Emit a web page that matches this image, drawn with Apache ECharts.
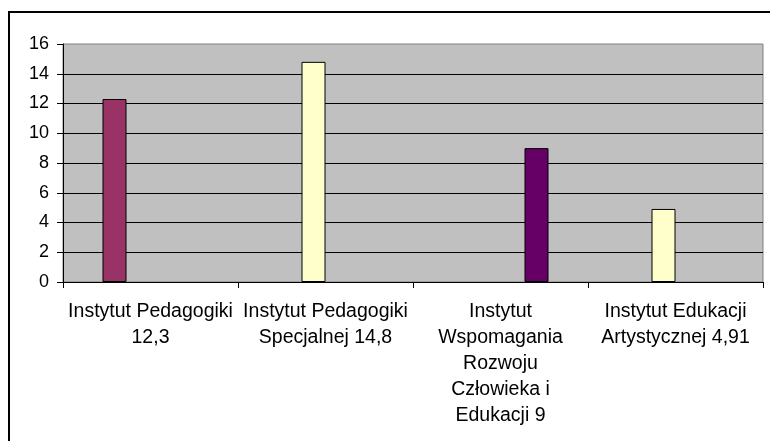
<!DOCTYPE html>
<html>
<head>
<meta charset="utf-8">
<script src="https://cdn.jsdelivr.net/npm/echarts@6/dist/echarts.min.js"></script>
<style>
  html, body { margin: 0; padding: 0; background: #fff; }
  #chart { width: 770px; height: 441px; }
</style>
</head>
<body>
<div id="chart"></div>
<script>
const categories = [
  'Instytut Pedagogiki\n12,3',
  'Instytut Pedagogiki\nSpecjalnej 14,8',
  'Instytut\nWspomagania\nRozwoju\nCzłowieka i\nEdukacji 9',
  'Instytut Edukacji\nArtystycznej 4,91'
];
const series1 = [12.3, null, null, null];
const series2 = [null, 14.8, null, 4.91];
const series3 = [null, null, null, null];
const series4 = [null, null, 9, null];
const yTicks = { min: 0, max: 16, interval: 2 };

const colors = ['#993366', '#FFFFCC', '#CCFFFF', '#660066'];
const FONT = '"Liberation Sans", Arial, sans-serif';

const chart = echarts.init(document.getElementById('chart'), null, { renderer: 'canvas' });

function barSeries(data, color) {
  return {
    type: 'bar',
    data: data,
    barWidth: 24,
    barGap: '0%',
    itemStyle: { color: color, borderColor: '#000', borderWidth: 1 },
    emphasis: { disabled: true },
    animation: false
  };
}

chart.setOption({
  animation: false,
  graphic: [{
    type: 'rect',
    shape: { x: 9, y: 12, width: 900, height: 600 },
    style: { fill: 'none', stroke: '#000', lineWidth: 2 },
    silent: true,
    z: 100
  }],
  grid: {
    left: 63, top: 44, width: 700, height: 238,
    show: true, backgroundColor: '#C0C0C0', borderColor: '#808080', borderWidth: 1
  },
  xAxis: {
    type: 'category',
    data: categories,
    axisLine: { lineStyle: { color: '#000', width: 1 } },
    axisTick: { show: true, length: 6, lineStyle: { color: '#000' } },
    axisLabel: {
      interval: 0, margin: 17, color: '#000', fontFamily: FONT, fontSize: 19.5,
      lineHeight: 26, align: 'center'
    },
    splitLine: { show: false }
  },
  yAxis: {
    type: 'value',
    min: yTicks.min, max: yTicks.max, interval: yTicks.interval,
    axisLine: { show: true, lineStyle: { color: '#000', width: 1 } },
    axisTick: { show: true, length: 6, lineStyle: { color: '#000' } },
    axisLabel: { margin: 14, color: '#000', fontFamily: FONT, fontSize: 18 },
    splitLine: { show: true, showMaxLine: false, lineStyle: { color: '#000', width: 1 } }
  },
  series: [
    barSeries(series1, colors[0]),
    barSeries(series2, colors[1]),
    barSeries(series3, colors[2]),
    barSeries(series4, colors[3])
  ]
});
</script>
</body>
</html>
